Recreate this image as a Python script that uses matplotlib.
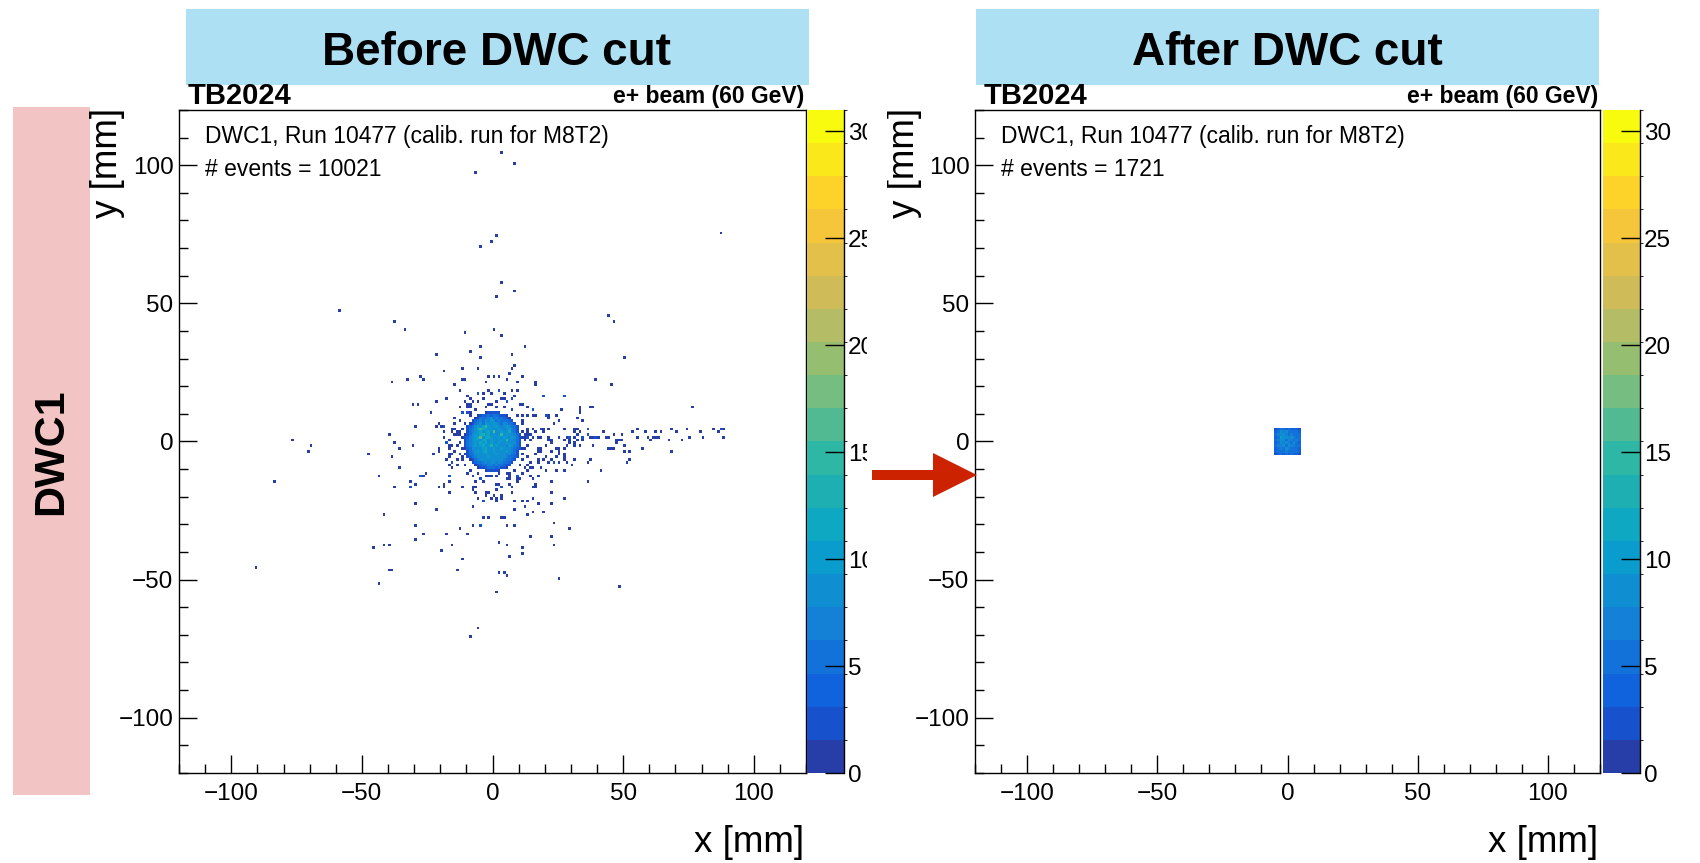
import numpy as np
import matplotlib
matplotlib.use('Agg')
import matplotlib.pyplot as plt
from matplotlib.colors import LinearSegmentedColormap, ListedColormap, BoundaryNorm
from matplotlib.patches import Rectangle, Polygon
from matplotlib.ticker import MultipleLocator

plt.rcParams['font.family'] = ['Liberation Sans', 'DejaVu Sans']

# ----------------- Data -----------------
bin_edges = np.arange(-120, 121, 1)      # 1 mm bins, both axes
z_max = 31
n_contours = 20
cbar_ticks = [0, 5, 10, 15, 20, 25, 30]
panel_titles = ['Before DWC cut', 'After DWC cut']
n_events = [10021, 1721]
run_label = 'DWC1, Run 10477 (calib. run for M8T2)'

stray_hits = [
    (-6.9, 97.6), (3.3, 104), (8.9, 100.5), (-4.6, 70.6), (-0.6, 72), (1.3, 74), (87.8, 75.5),
    (-58.1, 47), (-37.7, 43.4), (-33.2, 40.9), (3.9, 57), (8.2, 54), (1.3, 52), (44.3, 45),
    (46.9, 43.4), (-10.7, 39), (0.9, 40.4), (3.3, 38.4), (-4.6, 34.4), (-8.7, 32.5), (12.8, 34.9),
    (-4.6, 30.1), (-21.7, 31.4), (7.3, 31.4), (50.4, 30.4), (-11.2, 26.9), (-5.3, 26.4), (8.9, 27.4),
    (7.8, 26.4), (-18.8, 25.5), (6.8, 24.9), (-1.7, 23.9), (0.9, 23.9), (2.2, 23.4), (11.3, 23.4),
    (-27.2, 23.4), (-26.2, 22), (-32.2, 22.4), (-38.1, 21.5), (-11.3, 22.4), (-10.2, 22.4), (5.3, 22.4),
    (-14.6, 20.4), (-2.2, 21.5), (16.3, 21.5), (16.3, 20.4), (39.8, 22.9), (45.8, 20),
    (-77, 0), (-70, -1.2), (-71, -3.6), (-84, -14.6), (-91, -45.7), (-48, -4.6), (-39.7, 2.9),
    (-38, -0.6), (-35.6, -2.2), (-38.1, -5.2), (-43.8, -12.2), (-37.2, -16.6), (-35.6, -9.2),
    (-41.7, -26.6), (-45.7, -38.8), (-41.7, -37.7), (-39.2, -37.7), (-39.3, -46.2), (-38.8, -46.7),
    (-43.2, -51.2), (-5.2, -67.2), (-8.7, -70.2),
    (-12.2, 18), (-5.7, 17.4), (-30.2, 13.8), (-28.2, 13.3), (-21.1, 14.8), (-17.1, 15.4), (-10.3, 14.6),
    (-10.0, 13.1), (-9.7, 12.1), (-24.0, 10.8), (-12.7, 12.4), (-11.7, 10.5), (-10.0, 10.5), (-9.0, 10.5),
    (-14.4, 8.7), (-12.8, 7.5), (-29.2, 5.4), (-21.1, 5.4), (-19.2, 5.4), (-18.6, 5.4), (-14.5, 6.0),
    (-14.2, 4.0), (-15.6, 3.9), (-14.0, 3.6), (-12.8, 2.2), (-18.8, 1.7), (-30.2, -1.6), (-20.6, -2.2),
    (-20.5, -3.6), (-22.1, -4.1), (-18.0, -0.6), (-17.4, -0.8), (-16.2, -2.2), (-16.7, -2.0), (-16.0, -4.6),
    (-17.0, -4.6), (-17.7, -7.0), (-15.8, -7.5), (-16.3, -8.8), (-15.1, -9.7), (-13.0, -5.0), (-11.7, -5.4),
    (-10.6, -4.6), (-25.6, -11.1), (-26.1, -13.0), (-27.7, -12.6), (-31.1, -15.0), (-31.1, -16.6),
    (-18.8, -16.1), (-16.1, -13.0), (-16.1, -15.0), (-16.8, -18.6), (-11.2, -16.6), (-7.6, -16.6),
    (-7.1, -17.5), (-6.1, -18.2), (-30.0, -22.6), (-21.1, -24.7), (-7.6, -23.1), (-5.9, -20.6),
    (-3.1, -21.2), (-29.3, -30.7), (-26.7, -33.2), (-29.7, -35.3), (-17.6, -33.7), (-12.7, -31.1),
    (-9.2, -33.2), (-7.2, -30.2), (-4.1, -30.7), (-15.3, -37.7), (-19.6, -39.7), (-11.7, -42.8),
    (-13.7, -46.2), (-3.2, -27.2),
    (2.3, 18.4), (9.4, 18.9), (19.8, 16.5), (27.3, 16.5), (33.3, 12.9), (37.2, 12.9), (38.9, 12.9),
    (76.8, 12.9), (33.8, 11.3), (33.8, 10.3), (32.9, 8.6), (34.3, 7.1), (11.3, 13.5), (7.1, 15.5),
    (4.2, 15.5), (5.4, 14.4), (15.4, 11.3), (15.9, 9.8), (13.3, 9.8), (11.3, 9.8), (20.4, 9.8),
    (21.4, 9.8), (21.8, 8.4), (23.9, 6.4), (25.8, 7.4), (27.9, 4.9), (31.6, 4.0), (32.6, 4.0),
    (33.1, 3.2), (32.1, 2.9), (36.5, 4.5), (36.1, 4.0), (15.4, 4.2), (18.2, 4.0), (19.9, 4.0), (21.4, 4.0),
    (13.3, 2.9), (14.0, 2.9), (12.6, 1.9), (11.3, 1.2), (13.3, 1.3), (13.8, 1.3), (15.0, 1.3), (14.8, 0.6),
    (18.2, 1.4), (21.8, 1.9), (22.3, 0.6), (29.4, 1.4), (29.9, 1.4), (28.6, 1.0), (27.5, 0.3), (31.9, 1.0),
    (32.6, 0.3), (34.5, 1.0), (34.3, 0.3), (36.3, 2.3), (37.1, 1.6), (38.5, 1.6), (39.5, 1.0), (40.6, 1.8),
    (42.9, 3.0), (44.0, 1.4), (43.6, 1.6), (46.1, 2.3), (47.4, -0.2), (49.0, 2.3), (49.2, 0.8), (48.7, 0.3),
    (53.1, 3.4), (55.4, 1.9), (55.9, 4.3), (58.8, 3.4), (60.3, 0.9), (59.4, 1.4), (62.5, 3.0), (61.5, 1.8),
    (62.9, 1.8), (63.4, 1.8), (64.8, 3.3), (68.3, 4.3), (70.2, 3.4), (67.8, 0.9), (72.4, 0.4), (75.9, 1.4),
    (74.8, 4.3), (79.7, 3.0), (80.6, 1.9), (84.3, 4.9), (87.2, 4.9), (87.4, 4.3), (86.9, 3.4), (88.7, 4.3),
    (88.3, 1.8),
    (38.5, -1.7), (44.6, -3.0), (45.4, -3.0), (46.6, -3.0), (47.5, 0), (50.5, -2.0), (52.3, -3.2),
    (50.4, -3.9), (57.8, -2.5), (68.3, -3.6), (51.3, -7.2), (52.8, -6.3), (41.8, -10.2), (36.3, -14.2),
    (37.2, -6.2), (36.3, -7.6), (31.1, -6.8), (30.1, -8.1), (28.8, -7.2), (27.3, -7.0), (27.8, -5.3),
    (27.3, -4.4), (25.8, -5.0), (24.8, -5.2), (25.4, -2.9), (25.9, -3.2), (24.4, -2.5), (31.4, -0.4),
    (33.9, -1.6), (31.9, -1.6), (28.4, -1.9), (29.6, 0.2), (22.3, -0.5), (20.2, -1.8), (18.9, -3.6),
    (17.1, -3.1), (17.0, -2.4), (20.7, -6.0), (21.3, -7.1), (22.5, -6.9), (23.1, -7.2), (23.7, -7.5),
    (25.0, -7.6), (19.3, -6.4), (17.9, -7.5), (17.1, -6.3), (16.8, -4.6), (14.6, -7.5), (14.8, -9.1),
    (13.5, -10.3), (12.5, -9.9), (15.3, -9.7), (18.5, -9.9), (20.5, -10.2), (24.8, -10.2), (27.7, -10.5),
    (17.5, -12.8), (14.3, -12.7), (9.6, -12.5), (6.3, -12.0), (6.0, -12.6), (6.8, -13.6), (5.0, -13.3),
    (1.5, -12.6), (-0.4, -13.0), (-3.6, -14.9), (-4.2, -13.3), (22.1, -14.2), (15.0, -14.0), (9.6, -14.2),
    (16.9, -15.7), (16.7, -16.8), (15.1, -16.6), (2.3, -15.6), (3.7, -16.6), (7.7, -17.0), (9.2, -14.0),
    (22.5, -18.2), (22.8, -22.2), (27.3, -20.6),
    (-1.3, -18.6), (1.7, -17.8), (1.0, -20.1), (-2.2, -19.9), (-0.1, -20.6), (1.4, -21.6), (3.5, -19.7),
    (3.2, -20.2), (-3.2, -21.1), (8.7, -21.6), (11.9, -21.1), (13.3, -21.6), (15.3, -20.6), (12.3, -23.1),
    (17.3, -22.2), (19.9, -25.1), (15.9, -25.6), (13.9, -26.8), (8.7, -24.6), (-1.8, -27.1), (3.5, -27.1),
    (4.0, -27.6), (5.8, -30.6), (8.7, -30.6), (-4.2, -30.6), (14.4, -34.2), (22.8, -34.7), (23.4, -37.1),
    (23.2, -29.7), (29.9, -31.1), (11.7, -38.8), (11.8, -40.2), (2.9, -36.7), (5.8, -37.2), (6.3, -41.8),
    (2.3, -47.2), (4.7, -47.7), (5.4, -48.6), (1.3, -54.6), (25.3, -49.2), (48.8, -52.2),
    (-5.5, 17.2), (-3.9, 17.6), (-1.9, 18.2), (-0.4, 17.0), (2.5, 18.4), (4.7, 17.9), (7.1, 18.9),
    (9.2, 21.4), (27.2, 16.4), (19.9, 16.4), (-9.0, 15.2), (-7.8, 14.6), (-8.1, 13.4), (-8.7, 12.1),
    (-9.7, 10.9), (-11.7, 10.3), (-5.3, 14.3), (-3.6, 15.2), (-1.7, 13.6), (-0.1, 13.4), (1.5, 14.6),
    (3.5, 15.5), (5.4, 14.3), (7.3, 15.2), (10.1, 13.4), (13.1, 12.7), (15.0, 11.2), (16.9, 9.5),
    (20.2, 9.7), (24.0, 9.7), (26.5, 11.2), (-20.9, 6.1), (-19.0, 5.5), (-18.3, 3.7), (-15.7, 4.3),
    (-14.5, 2.4), (-17.0, 0.6), (-15.7, -1.2), (-14.5, -3.6), (-17.0, -6.0), (-15.7, -7.8), (-13.2, -8.5),
    (-13.2, -1.8), (-12.5, -4.2), (-11.7, 1.2), (-12.6, 3.7), (-13.4, 2.0), (11.8, 6.1), (13.1, 4.9),
    (12.4, 2.4), (13.7, 3.7), (12.7, 0.6), (13.7, -1.2), (12.7, -3.0), (11.2, -4.8), (13.1, -6.0),
    (16.3, 3.1), (17.6, 1.2), (19.5, 3.7), (21.4, 0), (18.9, -3.0), (22.4, -3.6), (25.2, 1.2),
    (27.2, -2.4), (29.1, -0.6), (31.7, 3.1), (34.3, 1.2), (36.8, 2.4), (39.4, 1.8), (-9.7, -11.2),
    (-7.8, -12.4), (-4.6, -13.6), (-1.4, -12.4), (1.5, -15.7), (3.5, -16.9), (6.0, -15.1), (9.2, -12.4),
    (11.2, -11.5), (7.3, -18.7), (0.9, -19.4), (-3.0, -18.1), (-6.2, -16.9), (-16.4, -12.4),
    (-18.3, -15.7), (-20.9, -16.9), (-27.3, -12.4), (-29.9, -15.7), (-31.2, -16.9),
    (-10.5, 6.5), (-11.2, 4.8), (-11.8, -2.5), (-11.4, -6.8), (-10.2, -8.9), (-8.4, -10.6), (-5.8, -11.9),
    (-2.6, -12.2), (2.8, -11.8), (5.6, -11.2), (8.2, -10.4), (10.6, -8.2), (11.7, -6.5), (11.9, -2.2),
    (11.6, 3.4), (11.2, 7.8), (9.8, 9.6), (7.6, 11.4), (4.3, 12.4), (1.2, 12.5), (-2.7, 12.3),
    (-6.3, 11.6), (-8.5, 9.8), (-12.4, -0.3), (-13.8, -6.9), (13.6, -8.8), (-6.9, -14.1), (10.8, -13.5),
    (-9.4, 16.8), (8.6, 16.9),
]

# beam spot core, counts per bin (base-36 digits), rows from top (y=11) down, centred on x=0
blob_rows = [
    "123322",
    "124454654321",
    "13566786755431",
    "2457687a86766542",
    "135786a98a97687652",
    "2468a9bea98a978a8652",
    "3579bfca9a88a979a763",
    "2678ac9ab9h98a98b763",
    "1368a9bdab9a89e9a98752",
    "2479abg9cba98a9a98a863",
    "2579aa9cb9a989a9f98763",
    "2678a9bab9a98a99a98862",
    "2579a8ab9ad8a9897a8752",
    "1468989ab98a98a9897642",
    "3579a8ab98a9898a8763",
    "2568989a989a89878652",
    "24578898a98988976542",
    "135788989898876542",
    "2456787887876542",
    "13456776765432",
    "123455545321",
    "122321",
]
blob_corner = (-11, 11)

# square left after the DWC cut, rows from top (y=5) down
cut_rows = [
    "3455454443",
    "4687866654",
    "5798767665",
    "46a8978765",
    "5789687675",
    "4687976864",
    "5778687765",
    "4676876654",
    "4566766654",
    "3454545443",
]
cut_corner = (-5, 5)


# ----------------- Helpers -----------------
def build_hist(rows, corner, hits=None):
    nb = len(bin_edges) - 1
    h = np.zeros((nb, nb))
    if hits:
        hx, hy = zip(*hits)
        h += np.histogram2d(hy, hx, bins=[bin_edges, bin_edges])[0]
    width = max(len(r) for r in rows)
    x0 = np.searchsorted(bin_edges, corner[0])
    y_top = np.searchsorted(bin_edges, corner[1]) - 1
    for i, row in enumerate(rows):
        row = row.center(width, '.')
        for j, ch in enumerate(row):
            if ch != '.':
                h[y_top - i, x0 + j] += int(ch, 36)
    return h


# ROOT kBird palette, 20 contour colours
bird_r = [0.2082, 0.0592, 0.0780, 0.0232, 0.1802, 0.5301, 0.8186, 0.9956, 0.9764]
bird_g = [0.1664, 0.3599, 0.5041, 0.6419, 0.7178, 0.7492, 0.7328, 0.7862, 0.9832]
bird_b = [0.5293, 0.8684, 0.8385, 0.7914, 0.6425, 0.4662, 0.3499, 0.1968, 0.0539]
bird = LinearSegmentedColormap.from_list(
    'bird', list(zip(np.linspace(0, 1, 9), zip(bird_r, bird_g, bird_b))))
cmap = ListedColormap([bird((i + 0.99) / n_contours) for i in range(n_contours)])
norm = BoundaryNorm(np.linspace(0, z_max, n_contours + 1), n_contours)

W, H = 1700, 863


def fx(px):
    return px / W


def fy(py):
    return 1 - py / H


fig = plt.figure(figsize=(W / 100, H / 100), dpi=100)
fig.patch.set_facecolor('white')

hists = [build_hist(blob_rows, blob_corner, stray_hits), build_hist(cut_rows, cut_corner)]
ax_left = [179, 975]
ax_right = [806, 1600]
cb_left = [807, 1603]
top_px, bot_px = 110, 773

for k in range(2):
    ax = fig.add_axes([fx(ax_left[k]), fy(bot_px), (ax_right[k] - ax_left[k]) / W, (bot_px - top_px) / H])
    cax = fig.add_axes([fx(cb_left[k]), fy(bot_px), 37 / W, (bot_px - top_px) / H])

    mesh = ax.pcolormesh(bin_edges, bin_edges, np.ma.masked_equal(hists[k], 0),
                         cmap=cmap, norm=norm, rasterized=True)
    ax.set_xlim(-120, 120)
    ax.set_ylim(-120, 120)
    ax.xaxis.set_major_locator(MultipleLocator(50))
    ax.xaxis.set_minor_locator(MultipleLocator(10))
    ax.yaxis.set_major_locator(MultipleLocator(50))
    ax.yaxis.set_minor_locator(MultipleLocator(10))
    ax.tick_params(which='both', direction='in', top=False, right=False, width=1, labelsize=17.5)
    ax.tick_params(which='major', length=13)
    ax.tick_params(which='minor', length=6.5)
    ax.tick_params(axis='x', pad=7)
    ax.tick_params(axis='y', pad=4)
    for sp in ax.spines.values():
        sp.set_linewidth(1)

    cb = fig.colorbar(mesh, cax=cax, ticks=cbar_ticks)
    cb.outline.set_visible(False)
    cax.tick_params(direction='in', length=14, width=1, labelsize=17.5, pad=3, right=True, left=False)
    cax.plot([1, 1], [0, 1], transform=cax.transAxes, color='black', lw=1, clip_on=False)

    x0 = ax_left[k]
    x1 = ax_right[k]
    fig.text(fx(x0 + 9), fy(96), 'TB2024', fontsize=21, fontweight='bold', ha='left', va='center')
    fig.text(fx(x1 - 2), fy(96), 'e+ beam (60 GeV)', fontsize=16.5, fontweight='bold', ha='right', va='center')
    fig.text(fx(x0 + 26), fy(136.5), run_label, fontsize=16.5, ha='left', va='center')
    fig.text(fx(x0 + 26), fy(170), f'# events = {n_events[k]}', fontsize=16.5, ha='left', va='center')
    fig.text(fx(x1 - 2), fy(842), 'x [mm]', fontsize=26.5, ha='right', va='center')
    fig.text(fx(x0 - 71), fy(108), 'y [mm]', fontsize=26.5, ha='center', va='top', rotation=90)

    # title box
    bx0 = [186, 976][k]
    fig.add_artist(Rectangle((fx(bx0), fy(85)), 623 / W, 76 / H, transform=fig.transFigure,
                             facecolor='#AEE0F3', edgecolor='none', zorder=3))
    fig.text(fx(bx0 + 311), fy(53), panel_titles[k], fontsize=33, fontweight='bold',
             ha='center', va='center', zorder=4)

# the left canvas is cropped on its right side
fig.add_artist(Rectangle((fx(867), fy(800)), 20 / W, 700 / H, transform=fig.transFigure,
                         facecolor='white', edgecolor='none', zorder=5))

# row label
fig.add_artist(Rectangle((fx(13), fy(795)), 77 / W, 688 / H, transform=fig.transFigure,
                         facecolor='#F2C4C4', edgecolor='none', zorder=3))
fig.text(fx(51), fy(452), 'DWC1', fontsize=31, fontweight='bold', rotation=90,
         ha='center', va='center', zorder=4)

# red arrow between the panels
arrow_px = [(872, 470), (933, 470), (933, 453), (977, 475), (933, 497), (933, 480), (872, 480)]
fig.add_artist(Polygon([(fx(a), fy(b)) for a, b in arrow_px], closed=True, transform=fig.transFigure,
                       facecolor='#CC2200', edgecolor='none', zorder=6))

fig.savefig('out.png', dpi=100)
